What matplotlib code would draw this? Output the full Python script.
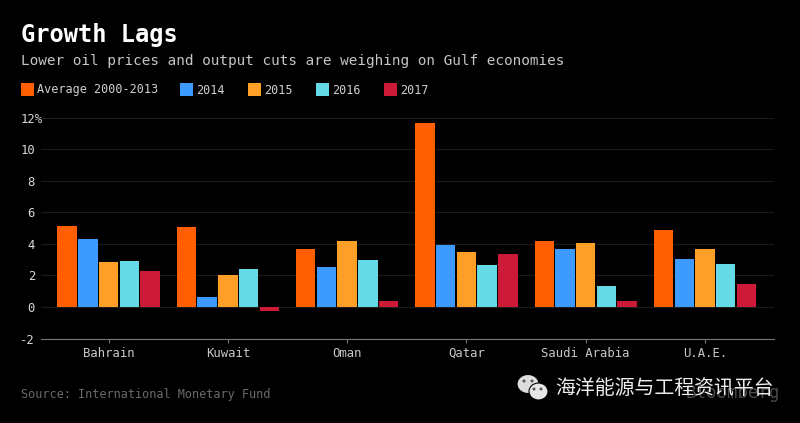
import matplotlib
matplotlib.use("Agg")
import matplotlib.pyplot as plt
from matplotlib.patches import Ellipse, Rectangle
import numpy as np

# Data
countries = ["Bahrain", "Kuwait", "Oman", "Qatar", "Saudi Arabia", "U.A.E."]
avg_2000_2013 = [5.1, 5.05, 3.7, 11.65, 4.15, 4.9]
y2014 = [4.3, 0.6, 2.5, 3.95, 3.65, 3.05]
y2015 = [2.85, 2.05, 4.15, 3.5, 4.05, 3.7]
y2016 = [2.9, 2.4, 3.0, 2.65, 1.35, 2.7]
y2017 = [2.25, -0.25, 0.35, 3.35, 0.35, 1.45]
yticks = [-2, 0, 2, 4, 6, 8, 10, 12]
yticklabels = ["-2", "0", "2", "4", "6", "8", "10", "12%"]

series_names = ["Average 2000-2013", "2014", "2015", "2016", "2017"]
series_values = [avg_2000_2013, y2014, y2015, y2016, y2017]
colors = ["#ff5f00", "#3d9bff", "#ff9f27", "#66d9e6", "#cc1a38"]
legend_x = [21, 180, 248, 316, 384]

W, H = 800, 423
BG = "black"
MONO = "DejaVu Sans Mono"

fig = plt.figure(figsize=(W / 100, H / 100), dpi=100, facecolor=BG)
ax = fig.add_axes([41 / W, 1 - 338.5 / H, (774 - 41) / W, (338.5 - 117.5) / H], facecolor=BG)

# Grouped bars
x = np.arange(len(countries))
step = 0.1735
for i, vals in enumerate(series_values):
    ax.bar(x + (i - 2) * step, vals, width=0.163, color=colors[i], zorder=3)

ax.set_xlim(-0.566, 5.578)
ax.set_ylim(-2, 12)
ax.set_yticks(yticks)
ax.set_yticklabels(yticklabels, family=MONO, fontsize=8.8, color="#d8d8d8")
ax.set_xticks(x)
ax.set_xticklabels(countries, family=MONO, fontsize=8.8, color="#c8c8c8")
ax.tick_params(axis="y", length=0, pad=4.3)
ax.tick_params(axis="x", length=3, color="#777777", width=0.8, pad=3)
# the % hangs past the digit column in the reference
ax.yaxis.get_major_ticks()[-1].set_pad(-1.5)
ax.yaxis.grid(True, color="#1c1c1c", linewidth=0.8, zorder=0)
ax.set_axisbelow(True)
for side in ["top", "right", "left"]:
    ax.spines[side].set_visible(False)
ax.spines["bottom"].set_color("#777777")
ax.spines["bottom"].set_linewidth(0.8)


# Figure level text, positions given in pixels from the top left
def px_text(px, py, s, **kw):
    fig.text(px / W, 1 - py / H, s, va="center", **kw)


px_text(21, 35, "Growth Lags", family=MONO, fontsize=17, fontweight="bold", color="white")
px_text(21, 61.5, "Lower oil prices and output cuts are weighing on Gulf economies",
        family=MONO, fontsize=10.4, color="#c4c4c4")
px_text(21, 394, "Source: International Monetary Fund", family=MONO, fontsize=8.6, color="#6a6a6a")

# Legend
for name, col, lx in zip(series_names, colors, legend_x):
    fig.add_artist(Rectangle((lx / W, 1 - 96 / H), 13 / W, 13 / H, transform=fig.transFigure,
                             facecolor=col, edgecolor="none"))
    px_text(lx + 16, 90, name, family=MONO, fontsize=8.5, color="#d0d0d0")

# Watermark: faint Bloomberg behind the WeChat caption
px_text(686, 393, "Bloomberg", family=MONO, fontsize=12.5, color="#4a4a4a")
px_text(555, 388, "海洋能源与工程资讯平台", family=["Noto Sans CJK SC", "DejaVu Sans"],
        fontsize=14.3, color="#eeeeee")

# WeChat icon
for cx, cy, ew, eh, fc in [(528, 384, 22, 19, "#dddddd"), (538.5, 391.5, 19, 17, "#e6e6e6")]:
    fig.add_artist(Ellipse((cx / W, 1 - cy / H), ew / W, eh / H, transform=fig.transFigure,
                           facecolor=fc, edgecolor=BG, linewidth=0.8))
for cx, cy in [(524, 381), (532, 381), (534, 389), (541, 389)]:
    fig.add_artist(Ellipse((cx / W, 1 - cy / H), 3 / W, 3 / H, transform=fig.transFigure,
                           facecolor="#555555", edgecolor="none"))

fig.savefig("out.png", dpi=100, facecolor=BG)
